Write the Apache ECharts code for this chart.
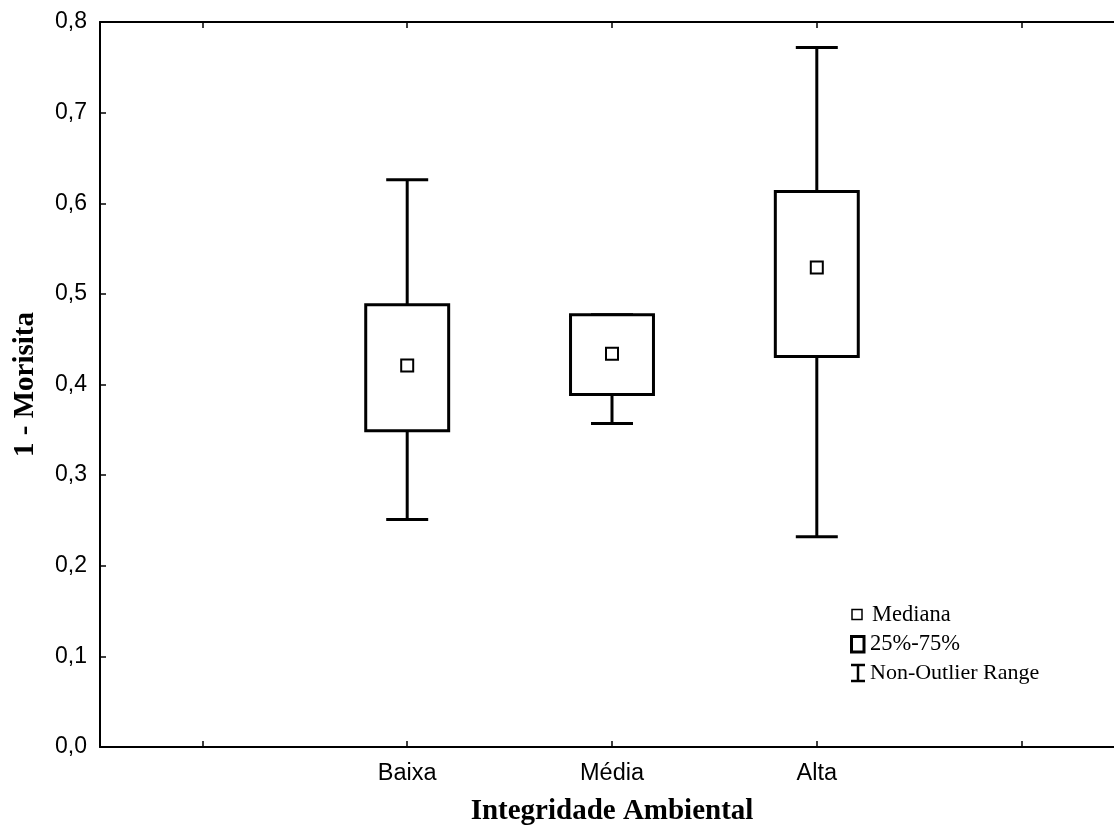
<!DOCTYPE html>
<html>
<head>
<meta charset="utf-8">
<script src="https://cdn.jsdelivr.net/npm/echarts@6/dist/echarts.min.js"></script>
<style>
html, body { margin: 0; padding: 0; background: #fff; }
#chart { width: 1114px; height: 834px; }
</style>
</head>
<body>
<div id="chart"></div>
<script>
// categorias (slots vazios nas pontas, como no original)
var categories = ['', 'Baixa', 'Média', 'Alta', ''];
var groups = ['Baixa', 'Média', 'Alta'];
// valores
var lowWhisker = [0.251, 0.357, 0.232];
var q1 = [0.349, 0.389, 0.431];
var medians = [0.421, 0.434, 0.529];
var q3 = [0.488, 0.477, 0.613];
var highWhisker = [0.626, 0.477, 0.772];

var serif = 'Liberation Serif, Times New Roman, serif';
var sans = 'Liberation Sans, Arial, sans-serif';

var boxData = groups.map(function (g, i) {
    return [categories.indexOf(g), lowWhisker[i], q1[i], medians[i], q3[i], highWhisker[i]];
});
var medianData = groups.map(function (g, i) {
    return [categories.indexOf(g), medians[i]];
});

// desenha caixa + bigodes
function renderBox(params, api) {
    var x = api.value(0);
    var slot = api.size([1, 0])[0];
    var bw = slot * 0.405, cw = slot * 0.205;
    var pLow = api.coord([x, api.value(1)]);
    var pQ1 = api.coord([x, api.value(2)]);
    var pQ3 = api.coord([x, api.value(4)]);
    var pHigh = api.coord([x, api.value(5)]);
    var cx = pLow[0];
    var ls = { stroke: '#000', lineWidth: 3 };
    return {
        type: 'group',
        children: [
            { type: 'line', shape: { x1: cx, y1: pQ1[1], x2: cx, y2: pLow[1] }, style: ls },
            { type: 'line', shape: { x1: cx - cw / 2, y1: pLow[1], x2: cx + cw / 2, y2: pLow[1] }, style: ls },
            { type: 'line', shape: { x1: cx, y1: pQ3[1], x2: cx, y2: pHigh[1] }, style: ls },
            { type: 'line', shape: { x1: cx - cw / 2, y1: pHigh[1], x2: cx + cw / 2, y2: pHigh[1] }, style: ls },
            {
                type: 'rect',
                shape: { x: cx - bw / 2, y: pQ3[1], width: bw, height: pQ1[1] - pQ3[1] },
                style: { fill: '#fff', stroke: '#000', lineWidth: 3 }
            }
        ]
    };
}

var tickStyle = { show: true, inside: true, length: 6, interval: 0, alignWithLabel: true, lineStyle: { color: '#000', width: 1.5 } };

var chart = echarts.init(document.getElementById('chart'));
var option = {
    animation: false,
    backgroundColor: '#fff',
    grid: { left: 100, right: -10, top: 22, bottom: 87, outerBoundsMode: 'none', containLabel: false },
    xAxis: [{
        type: 'category',
        data: categories,
        boundaryGap: true,
        name: 'Integridade Ambiental',
        nameLocation: 'middle',
        nameGap: 50,
        nameTextStyle: { fontFamily: serif, fontWeight: 'bold', fontSize: 29, color: '#000' },
        axisLine: { lineStyle: { color: '#000', width: 2 } },
        axisTick: tickStyle,
        axisLabel: { fontFamily: sans, fontSize: 23.5, color: '#000', margin: 15, interval: 0 },
        splitLine: { show: false }
    }, {
        type: 'category',
        data: categories,
        position: 'top',
        boundaryGap: true,
        axisLine: { lineStyle: { color: '#000', width: 2 } },
        axisTick: tickStyle,
        axisLabel: { show: false },
        splitLine: { show: false }
    }],
    yAxis: {
        type: 'value',
        min: 0,
        max: 0.8,
        interval: 0.1,
        name: '1 - Morisita',
        nameLocation: 'middle',
        nameGap: 60,
        nameTextStyle: { fontFamily: serif, fontWeight: 'bold', fontSize: 29, color: '#000' },
        axisLine: { show: true, lineStyle: { color: '#000', width: 2 } },
        axisTick: { show: true, inside: true, length: 6, lineStyle: { color: '#000', width: 1.5 } },
        axisLabel: {
            fontFamily: sans, fontSize: 23, color: '#000', margin: 13,
            formatter: function (v) { return v.toFixed(1).replace('.', ','); }
        },
        splitLine: { show: false }
    },
    series: [{
        name: '25%-75%',
        type: 'custom',
        renderItem: renderBox,
        encode: { x: 0, y: [1, 2, 3, 4, 5] },
        data: boxData,
        z: 2
    }, {
        name: 'Mediana',
        type: 'scatter',
        symbol: 'rect',
        symbolSize: 12,
        itemStyle: { color: '#fff', borderColor: '#000', borderWidth: 2, opacity: 1 },
        data: medianData,
        z: 3
    }],
    graphic: [
        { type: 'rect', shape: { x: 852, y: 609.5, width: 10, height: 10 }, style: { fill: '#fff', stroke: '#000', lineWidth: 1.5 } },
        { type: 'rect', shape: { x: 851.5, y: 636.5, width: 12.5, height: 15.5 }, style: { fill: '#fff', stroke: '#000', lineWidth: 3 } },
        { type: 'line', shape: { x1: 858, y1: 665, x2: 858, y2: 681 }, style: { stroke: '#000', lineWidth: 2.5 } },
        { type: 'line', shape: { x1: 851, y1: 665, x2: 865, y2: 665 }, style: { stroke: '#000', lineWidth: 2.5 } },
        { type: 'line', shape: { x1: 851, y1: 681, x2: 865, y2: 681 }, style: { stroke: '#000', lineWidth: 2.5 } },
        { type: 'text', x: 872, y: 615.3, style: { text: 'Mediana', fontFamily: serif, fontSize: 22.5, fill: '#000', verticalAlign: 'middle' } },
        { type: 'text', x: 870, y: 644.3, style: { text: '25%-75%', fontFamily: serif, fontSize: 22.5, fill: '#000', verticalAlign: 'middle' } },
        { type: 'text', x: 870, y: 673.3, style: { text: 'Non-Outlier Range', fontFamily: serif, fontSize: 22, fill: '#000', verticalAlign: 'middle' } }
    ]
};
chart.setOption(option);
</script>
</body>
</html>
